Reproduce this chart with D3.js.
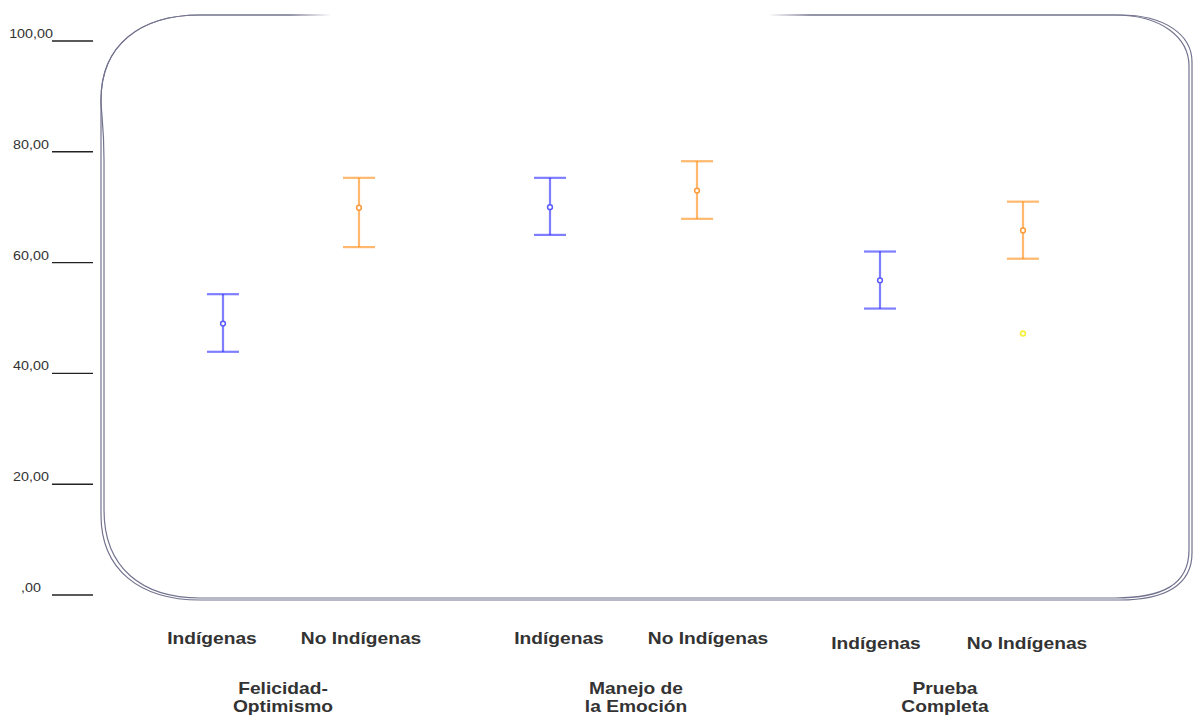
<!DOCTYPE html>
<html>
<head>
<meta charset="utf-8">
<script src="https://cdn.jsdelivr.net/npm/d3@7"></script>
<style>
  html, body { margin: 0; padding: 0; background: #fff; }
  svg { display: block; }
  text { font-family: "Liberation Sans", Arial, sans-serif; fill: #333; }
</style>
</head>
<body>
<svg id="chart" width="1193" height="717"></svg>
<script>
// Scale groups and respondent series
const groupLines = [["Felicidad-", "Optimismo"], ["Manejo de", "la Emoción"], ["Prueba", "Completa"]];
const seriesNames = ["Indígenas", "No Indígenas"];

// Means and 95% confidence bounds per group
const meanIndigenas   = [49.0, 70.0, 56.8];
const lowerIndigenas  = [43.9, 65.0, 51.7];
const upperIndigenas  = [54.3, 75.3, 62.0];

const meanNoIndigenas  = [69.9, 73.0, 65.8];
const lowerNoIndigenas = [62.8, 67.9, 60.7];
const upperNoIndigenas = [75.3, 78.3, 71.0];

// Isolated case shown below the Prueba Completa / No Indígenas interval
const outlierGroup  = [2];
const outlierSeries = [1];
const outlierValue  = [47.2];

// Y axis ticks
const tickValues = [0, 20, 40, 60, 80, 100];
const tickLabels = [",00", "20,00", "40,00", "60,00", "80,00", "100,00"];

const svg = d3.select("#chart");

const y = d3.scaleLinear().domain([0, 100]).range([595, 41]);
const xGroup = d3.scalePoint().domain(d3.range(groupLines.length)).range([291, 951]);
const xInner = d3.scalePoint().domain(seriesNames).range([-70, 70]);
const xPos = (g, s) => xGroup(g) + xInner(s);

// Layout nudges for the interval positions and text under the plot
const barDx = [[2, -2], [-1, 6], [-1, 2]];
const catDx = [[-9, 0], [8, 17], [-5, 6]];
const catDy = [0, 0, 5];
const grpDx = [-8, 15, -6];

const lineColor = ["rgba(40,40,255,0.6)", "rgba(255,140,20,0.62)"];
const dotColor  = ["#5a5aff", "#ff9a3a"];

// Frame around the plot area (two nearly coincident strokes)
const framePaths = [
  "M200,15 H1120 C1165,15 1192,35 1192,62 V553 C1192,585 1165,600 1120,600 H200 C140,600 101,570 101,515 V100 C101,45 140,15 200,15 Z",
  "M200,15 H1115 C1162,15 1189,38 1189,66 V550 C1189,585 1162,598 1115,598 H200 C142,598 104,568 104,510 V160 C104,125 101,112 101,100 C101,45 140,15 200,15 Z"
];
svg.append("g").selectAll("path").data(framePaths).join("path")
  .attr("d", d => d)
  .attr("fill", "none")
  .attr("stroke", "#72728e")
  .attr("stroke-width", 1.2);

// Fade out the middle of the top edge
const defs = svg.append("defs");
const grad = defs.append("linearGradient").attr("id", "topFade").attr("x1", "0").attr("x2", "1");
grad.append("stop").attr("offset", "0").attr("stop-color", "#fff").attr("stop-opacity", 0);
grad.append("stop").attr("offset", "0.08").attr("stop-color", "#fff").attr("stop-opacity", 1);
grad.append("stop").attr("offset", "0.92").attr("stop-color", "#fff").attr("stop-opacity", 1);
grad.append("stop").attr("offset", "1").attr("stop-color", "#fff").attr("stop-opacity", 0);
svg.append("rect").attr("x", 290).attr("y", 8).attr("width", 520).attr("height", 14)
  .attr("fill", "url(#topFade)");

// Y axis: short tick lines with centred labels
const yAxis = svg.append("g");
yAxis.selectAll("line").data(tickValues).join("line")
  .attr("x1", 52).attr("x2", 93)
  .attr("y1", d => y(d)).attr("y2", d => y(d))
  .attr("stroke", "#222").attr("stroke-width", 1.4);
yAxis.selectAll("g.lbl").data(tickValues).join("g").attr("class", "lbl")
  .attr("transform", d => `translate(31,${y(d) - 3}) scale(1.1,1)`)
  .append("text")
  .attr("text-anchor", "middle")
  .style("font-size", "13px")
  .text((d, i) => tickLabels[i]);

// Error bars
const rows = [];
d3.range(groupLines.length).forEach(g => {
  rows.push({ g, s: seriesNames[0], si: 0, m: meanIndigenas[g], lo: lowerIndigenas[g], hi: upperIndigenas[g] });
  rows.push({ g, s: seriesNames[1], si: 1, m: meanNoIndigenas[g], lo: lowerNoIndigenas[g], hi: upperNoIndigenas[g] });
});
const bx = d => xPos(d.g, d.s) + barDx[d.g][d.si];

const bars = svg.append("g").selectAll("g").data(rows).join("g");
bars.append("line")
  .attr("x1", bx).attr("x2", bx)
  .attr("y1", d => y(d.hi)).attr("y2", d => y(d.lo))
  .attr("stroke", d => lineColor[d.si]).attr("stroke-width", 2.2);
["hi", "lo"].forEach(k => {
  bars.append("line")
    .attr("x1", d => bx(d) - 16).attr("x2", d => bx(d) + 16)
    .attr("y1", d => y(d[k])).attr("y2", d => y(d[k]))
    .attr("stroke", d => lineColor[d.si]).attr("stroke-width", 2.2);
});
bars.append("circle")
  .attr("cx", bx).attr("cy", d => y(d.m)).attr("r", 2.4)
  .attr("fill", "#fff").attr("stroke", d => dotColor[d.si]).attr("stroke-width", 1.5);

// Outlier point
svg.append("g").selectAll("circle").data(outlierValue).join("circle")
  .attr("cx", (d, i) => xPos(outlierGroup[i], seriesNames[outlierSeries[i]]) + barDx[outlierGroup[i]][outlierSeries[i]])
  .attr("cy", d => y(d)).attr("r", 2.4)
  .attr("fill", "#fff").attr("stroke", "#f5f03a").attr("stroke-width", 1.6);

// Category labels under each interval
const catLabels = svg.append("g");
rows.forEach(d => {
  catLabels.append("g")
    .attr("transform", `translate(${xPos(d.g, d.s) + catDx[d.g][d.si]},${644 + catDy[d.g]}) scale(1.2,1)`)
    .append("text")
    .attr("text-anchor", "middle")
    .style("font-size", "16px").style("font-weight", "bold")
    .text(d.s);
});

// Group labels (two lines each)
const grpLabels = svg.append("g");
groupLines.forEach((lines, g) => {
  lines.forEach((t, li) => {
    grpLabels.append("g")
      .attr("transform", `translate(${xGroup(g) + grpDx[g]},${694 + li * 18}) scale(1.2,1)`)
      .append("text")
      .attr("text-anchor", "middle")
      .style("font-size", "16px").style("font-weight", "bold")
      .text(t);
  });
});
</script>
</body>
</html>
